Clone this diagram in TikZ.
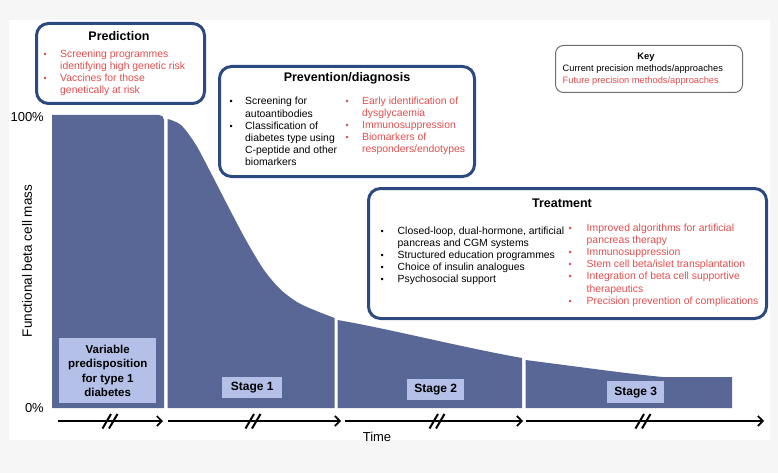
\documentclass[tikz,border=0pt]{standalone}
\usepackage{fontspec}
\setmainfont{Liberation Sans}
\usetikzlibrary{arrows.meta}
\definecolor{navy}{RGB}{44,74,128}
\definecolor{slate}{RGB}{89,103,150}
\definecolor{lav}{RGB}{180,192,232}
\definecolor{redtxt}{RGB}{226,78,78}
\definecolor{keygray}{RGB}{110,110,110}
\definecolor{bggray}{RGB}{246,246,246}
\begin{document}
\begin{tikzpicture}[x=1pt,y=-1pt,
  bluebox/.style={draw=navy, line width=3pt, rounded corners=12pt, fill=white, anchor=north west, inner sep=0},
  keybox/.style={draw=keygray, line width=1pt, rounded corners=8pt, fill=white, anchor=north west, inner sep=0},
  stagelbl/.style={fill=lav, font=\fontsize{12}{14}\selectfont\bfseries, inner sep=0, anchor=north west, align=center},
  region/.style={fill=slate},
  timearrow/.style={line width=1.7pt, -{Straight Barb[length=5pt,width=10pt]}},
  brk/.style={line width=2pt},
  body/.style={font=\fontsize{10.4}{12.1}\selectfont, anchor=base west, inner sep=0},
  keytxt/.style={font=\fontsize{9.3}{11}\selectfont, anchor=base west, inner sep=0},
  ttl/.style={font=\fontsize{12.5}{15}\selectfont\bfseries, anchor=base, inner sep=0},
  axlbl/.style={font=\fontsize{13}{15}\selectfont, inner sep=0}
]
\useasboundingbox (0,0) rectangle (778,473);
\fill[bggray] (0,0) rectangle (778,473);
\fill[white] (9,20) rectangle (770,440);

% chart regions
\fill[region] (52,408) -- (52,115) -- (159,115) .. controls (162,115) and (164,117) .. (164,120) -- (164,408) -- cycle;
\fill[region] (167.5,408) -- plot[smooth] coordinates {(167.5,119) (181,125) (196,145) (213,177) (230,210) (247,242) (264,270) (280,289) (297,302) (314,310) (334.5,318)} -- (334.5,408) -- cycle;
\fill[region] (337.5,408) -- (337.5,320) .. controls (390,329) and (460,347) .. (522,358) -- (522,408) -- cycle;
\fill[region] (525.5,408) -- (525.5,360) .. controls (580,367) and (630,374) .. (663,377) -- (732,377) -- (732,408) -- cycle;

% stage labels
\node[stagelbl, minimum width=97, minimum height=65, font=\fontsize{11.5}{14.5}\selectfont\bfseries] (var) at (59,338) {Variable\\predisposition\\for type 1\\diabetes};
\node[stagelbl, minimum width=60, minimum height=21] (s1) at (222,377) {Stage 1};
\node[stagelbl, minimum width=57, minimum height=21] (s2) at (407,379) {Stage 2};
\node[stagelbl, minimum width=57, minimum height=22] (s3) at (607,381) {Stage 3};

% axis labels
\node[axlbl, anchor=base east] (p100) at (44,122) {100\%};
\node[axlbl, anchor=base east] (p0) at (44,412) {0\%};
\node[axlbl, font=\fontsize{13.5}{15}\selectfont, rotate=90] (ylab) at (27,261) {Functional beta cell mass};
\node[axlbl, anchor=base] (time) at (377,441) {Time};

% time arrows
\coordinate (a0) at (58,421);  \coordinate (a1) at (163,421);
\coordinate (a2) at (168,421); \coordinate (a3) at (341,421);
\coordinate (a4) at (345,421); \coordinate (a5) at (523,421);
\coordinate (a6) at (526,421); \coordinate (a7) at (764,421);
\draw[timearrow] (a0) -- (a1);
\draw[timearrow] (a2) -- (a3);
\draw[timearrow] (a4) -- (a5);
\draw[timearrow] (a6) -- (a7);
\foreach \c in {110,253,437,643}{
  \draw[brk] (\c-7.5,428.5) -- (\c+1,414);
  \draw[brk] (\c-1,428.5) -- (\c+7.5,414);
}

% Prediction box
\node[bluebox, minimum width=168, minimum height=80] (pred) at (35,22) {};
\node[ttl] (predt) at (119,40.5) {Prediction};
\node[body, text=redtxt] (predl) at (43.5,57.5) {\begin{tabular}[t]{@{}p{16.5pt}@{}l@{}}{\small•}&Screening programmes\\&identifying high genetic risk\\{\small•}&Vaccines for those\\&genetically at risk\end{tabular}};

% Prevention/diagnosis box
\node[bluebox, minimum width=255, minimum height=110] (prev) at (218,65) {};
\node[ttl] (prevt) at (347,82) {Prevention/diagnosis};
\node[body] (prevb) at (229.5,105) {\begin{tabular}[t]{@{}p{15.5pt}@{}l@{}}{\small•}&Screening for\\&autoantibodies\\{\small•}&Classification of\\&diabetes type using\\&C-peptide and other\\&biomarkers\end{tabular}};
\node[body, text=redtxt] (prevr) at (345.5,104.5) {\begin{tabular}[t]{@{}p{16.5pt}@{}l@{}}{\small•}&Early identification of\\&dysglycaemia\\{\small•}&Immunosuppression\\{\small•}&Biomarkers of\\&responders/endotypes\end{tabular}};

% Key box
\node[keybox, minimum width=187, minimum height=47] (key) at (555,45) {};
\node[keytxt, anchor=base, font=\fontsize{9.3}{11}\selectfont\bfseries] (keyt) at (646,59.5) {Key};
\node[keytxt] (keyc) at (562.5,72) {Current precision methods/approaches};
\node[keytxt, text=redtxt] (keyf) at (562.5,83.5) {Future precision methods/approaches};

% Treatment box
\node[bluebox, minimum width=398, minimum height=130] (treat) at (367,187) {};
\node[ttl] (treatt) at (562,207) {Treatment};
\node[body] (treatb) at (380.5,234.5) {\begin{tabular}[t]{@{}p{17pt}@{}l@{}}{\small•}&Closed-loop, dual-hormone, artificial\\&pancreas and CGM systems\\{\small•}&Structured education programmes\\{\small•}&Choice of insulin analogues\\{\small•}&Psychosocial support\end{tabular}};
\node[body, text=redtxt] (treatr) at (568.5,231.5) {\begin{tabular}[t]{@{}p{18pt}@{}l@{}}{\small•}&Improved algorithms for artificial\\&pancreas therapy\\{\small•}&Immunosuppression\\{\small•}&Stem cell beta/islet transplantation\\{\small•}&Integration of beta cell supportive\\&therapeutics\\{\small•}&Precision prevention of complications\end{tabular}};
\end{tikzpicture}
\end{document}
